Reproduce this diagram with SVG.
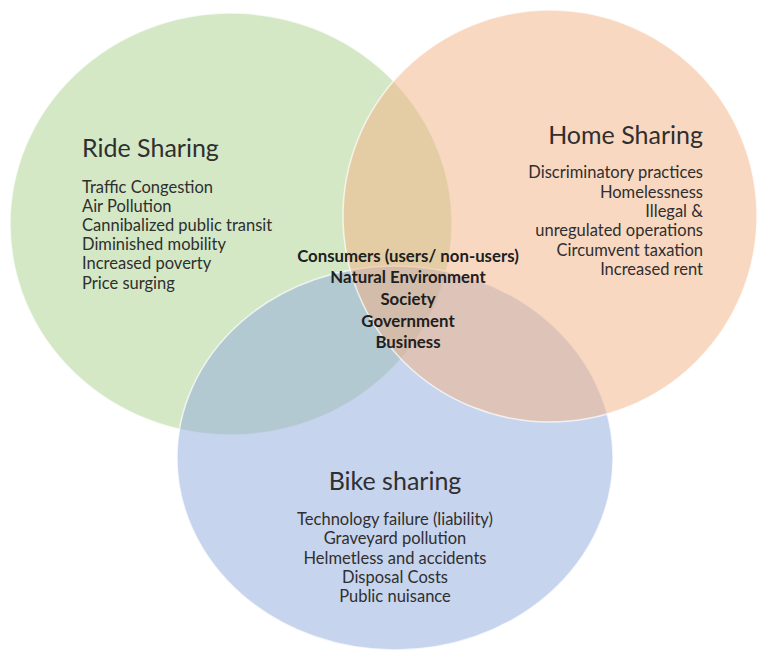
<svg xmlns="http://www.w3.org/2000/svg" width="765" height="652" viewBox="0 0 765 652">
<style>
.c{stroke:#ffffff;stroke-width:1.5;stroke-opacity:0.7}
.t{font-family:Lato,"Open Sans","Liberation Sans",sans-serif;fill:#2f2f2f}
.h{font-size:25px}
.i{font-size:16.5px}
.b{font-size:16.8px;font-weight:bold;fill:#202020}
</style>
<rect width="765" height="652" fill="#ffffff"/>
<g id="ride-sharing">
<ellipse class="c" cx="231" cy="224" rx="221" ry="211" fill="#A9D18E" fill-opacity="0.5"/>
</g>
<g id="bike-sharing">
<ellipse class="c" cx="395" cy="458" rx="218" ry="192" fill="#8FAADC" fill-opacity="0.5"/>
</g>
<g id="home-sharing">
<ellipse class="c" cx="550" cy="216" rx="207" ry="206" fill="#F4B183" fill-opacity="0.5"/>
</g>
<g id="connectors"></g>
<g id="ride-text" class="t">
<text class="h" x="82" y="157">Ride Sharing</text>
<text class="i" x="82" y="192.5">Traffic Congestion</text>
<text class="i" x="82" y="211.7">Air Pollution</text>
<text class="i" x="82" y="231">Cannibalized public transit</text>
<text class="i" x="82" y="250.2">Diminished mobility</text>
<text class="i" x="82" y="269.4">Increased poverty</text>
<text class="i" x="82" y="288.6">Price surging</text>
</g>
<g id="home-text" class="t" text-anchor="end">
<text class="h" x="703" y="144">Home Sharing</text>
<text class="i" x="703" y="178.3">Discriminatory practices</text>
<text class="i" x="703" y="197.7">Homelessness</text>
<text class="i" x="703" y="217">Illegal &amp;</text>
<text class="i" x="703" y="236.4">unregulated operations</text>
<text class="i" x="703" y="255.8">Circumvent taxation</text>
<text class="i" x="703" y="275.2">Increased rent</text>
</g>
<g id="center-text" class="t" text-anchor="middle">
<text class="b" x="408" y="261.7">Consumers (users/ non-users)</text>
<text class="b" x="408" y="283.3">Natural Environment</text>
<text class="b" x="408" y="305">Society</text>
<text class="b" x="408" y="326.6">Government</text>
<text class="b" x="408" y="348.2">Business</text>
</g>
<g id="bike-text" class="t" text-anchor="middle">
<text class="h" x="395" y="490">Bike sharing</text>
<text class="i" x="395" y="525">Technology failure (liability)</text>
<text class="i" x="395" y="544.3">Graveyard pollution</text>
<text class="i" x="395" y="563.6">Helmetless and accidents</text>
<text class="i" x="395" y="582.9">Disposal Costs</text>
<text class="i" x="395" y="602.2">Public nuisance</text>
</g>
</svg>
